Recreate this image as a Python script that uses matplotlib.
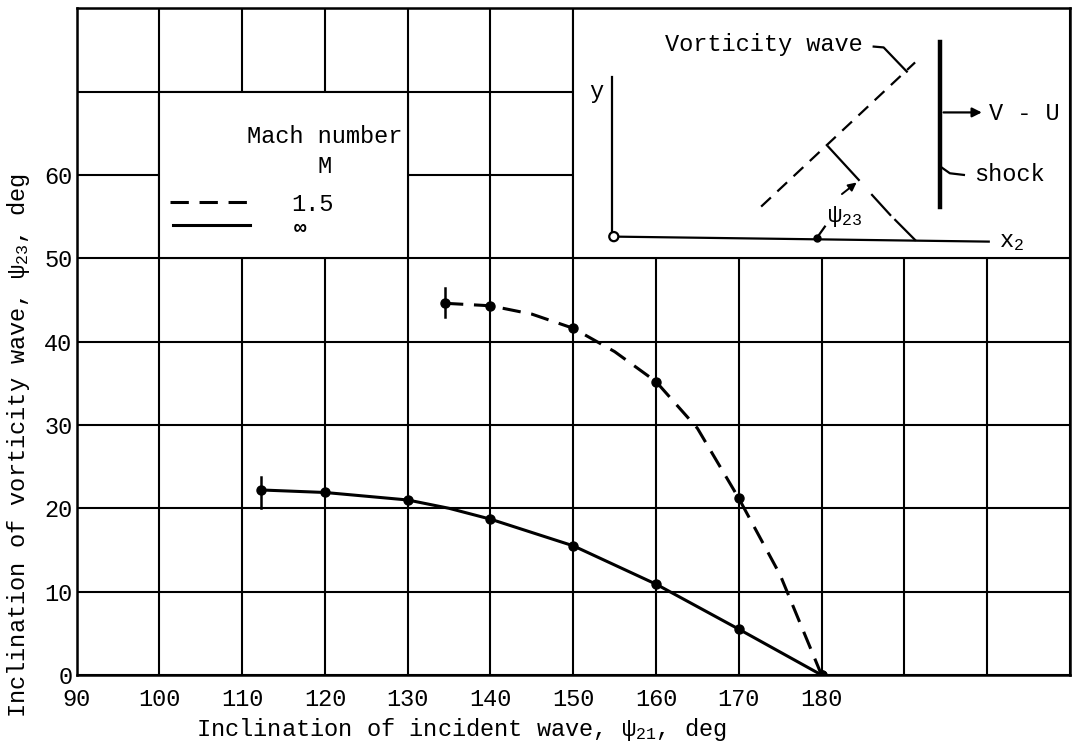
import matplotlib.pyplot as plt
from matplotlib.patches import Rectangle, Circle

# Inclination of incident wave (deg) and of vorticity wave (deg), data points
psi21_inf = [112.3, 120, 130, 140, 150, 160, 170, 180]
psi23_inf = [22.2, 21.9, 21.0, 18.7, 15.5, 10.9, 5.5, 0.0]

psi21_15 = [134.5, 140, 150, 160, 170, 180]
psi23_15 = [44.6, 44.3, 41.6, 35.2, 21.2, 0.0]

# faired curves
curve21_inf = [112.3, 120, 130, 135, 140, 150, 160, 170, 180]
curve23_inf = [22.2, 21.9, 21.0, 20.0, 18.7, 15.5, 10.9, 5.5, 0.0]
curve21_15 = [134.5, 140, 145, 150, 155, 160, 165, 170, 175, 180]
curve23_15 = [44.6, 44.3, 43.3, 41.6, 38.8, 35.2, 29.6, 21.2, 12.0, 0.0]

# limit markers at the start of each curve
limit_x = [112.3, 134.5]
limit_lo = [20.0, 43.0]
limit_hi = [23.8, 46.4]

x_ticks = list(range(90, 220, 10))
x_labels = [str(v) if v <= 180 else "" for v in x_ticks]
y_ticks = list(range(0, 90, 10))
y_labels = [str(v) if v <= 60 else "" for v in y_ticks]

plt.rcParams["font.family"] = ["Liberation Mono", "DejaVu Sans"]
plt.rcParams["mathtext.fontset"] = "custom"
plt.rcParams["mathtext.rm"] = "Liberation Mono"
plt.rcParams["mathtext.it"] = "Liberation Mono"
plt.rcParams["font.size"] = 17

fig = plt.figure(figsize=(10.72, 7.5), dpi=100)
ax = fig.add_axes([0.0715, 0.1, 0.9265, 0.889])

ax.set_xlim(90, 210)
ax.set_ylim(0, 80)
ax.set_xticks(x_ticks)
ax.set_xticklabels(x_labels)
ax.set_yticks(y_ticks)
ax.set_yticklabels(y_labels)
ax.tick_params(axis="x", length=0, pad=9)
ax.tick_params(axis="y", length=0, pad=3)
ax.set_axisbelow(True)
ax.grid(True, color="black", linewidth=1.5)
for s in ax.spines.values():
    s.set_linewidth(1.8)

ax.set_xlabel(r"Inclination of incident wave, $\psi_{21}$, deg")
ax.xaxis.set_label_coords(0.387, -0.061)
ax.set_ylabel(r"Inclination of vorticity wave, $\psi_{23}$, deg")
ax.yaxis.set_label_coords(-0.045, 0.345)

# blank areas for key and sketch
ax.add_patch(Rectangle((100, 50), 30, 20, facecolor="white", edgecolor="black",
                       linewidth=1.5, zorder=1))
ax.add_patch(Rectangle((150, 50), 60, 30, facecolor="white", edgecolor="black",
                       linewidth=1.5, zorder=1))

# curves
ax.plot(curve21_inf, curve23_inf, color="black", linewidth=2.2, zorder=3)
ax.plot(psi21_inf, psi23_inf, "o", color="black", markersize=6.5, zorder=3)
ax.plot(curve21_15, curve23_15, color="black", linewidth=2.2,
        dashes=(6, 3.5), zorder=3)
ax.plot(psi21_15, psi23_15, "o", color="black", markersize=6.5, zorder=3)
for xv, lo, hi in zip(limit_x, limit_lo, limit_hi):
    ax.plot([xv, xv], [lo, hi], color="black", linewidth=1.8, zorder=3)

# key
ax.text(120.0, 64.6, "Mach number", ha="center", va="center", zorder=4)
ax.text(120.0, 61.0, "M", ha="center", va="center", zorder=4)
ax.plot([101.3, 111.0], [56.8, 56.8], color="black", linewidth=2.2,
        dashes=(6, 3.5), zorder=4)
ax.text(118.5, 56.5, "1.5", ha="center", va="center", zorder=4)
ax.plot([101.6, 111.0], [54.0, 54.0], color="black", linewidth=2.2, zorder=4)
ax.text(117.0, 53.6, "∞", ha="center", va="center", fontsize=15,
        fontweight="bold", zorder=4)

# sketch
lk = dict(color="black", linewidth=1.6, zorder=4)
ax.plot([154.7, 154.7], [52.8, 71.7], **lk)
ax.text(153.6, 70.0, "y", ha="right", va="center", zorder=4)
ax.plot([154.9, 200.2], [52.6, 52.0], **lk)
ax.add_patch(Circle((154.9, 52.6), 0.55, facecolor="white", edgecolor="black",
                    linewidth=1.6, zorder=5))
ax.text(201.4, 52.0, r"x$_2$", ha="left", va="center", zorder=4)
ax.plot([172.7, 191.3], [56.2, 73.5], color="black", linewidth=1.6,
        dashes=(6, 4), zorder=4)
ax.plot([180.8, 184.5], [63.4, 59.4], **lk)
ax.plot([186.1, 188.3], [57.6, 55.2], **lk)
ax.plot([188.9, 191.3], [54.6, 52.2], **lk)
ax.annotate("", xy=(184.5, 59.3), xytext=(182.2, 57.5),
            arrowprops=dict(arrowstyle="-|>", color="black", lw=1.4,
                            mutation_scale=12), zorder=4)
ax.text(182.8, 55.0, r"$\psi_{23}$", ha="center", va="center", zorder=4)
ax.plot([179.4, 180.4], [52.4, 53.8], **lk)
ax.plot([179.4], [52.4], marker="o", markersize=5, color="black", zorder=5)
ax.text(185.0, 75.6, "Vorticity wave", ha="right", va="center", zorder=4)
ax.plot([186.3, 187.5, 190.3], [75.4, 75.3, 72.4], **lk)
ax.plot([194.3, 194.3], [56.2, 75.9], color="black", linewidth=3.2, zorder=4)
ax.annotate("", xy=(199.7, 67.5), xytext=(194.4, 67.5),
            arrowprops=dict(arrowstyle="-|>", color="black", lw=1.6,
                            mutation_scale=14), zorder=4)
ax.text(200.2, 67.4, "V - U", ha="left", va="center", zorder=4)
ax.plot([194.5, 195.5, 197.2], [60.9, 60.2, 60.0], **lk)
ax.text(198.4, 60.0, "shock", ha="left", va="center", zorder=4)

fig.savefig("out.png", dpi=100)
